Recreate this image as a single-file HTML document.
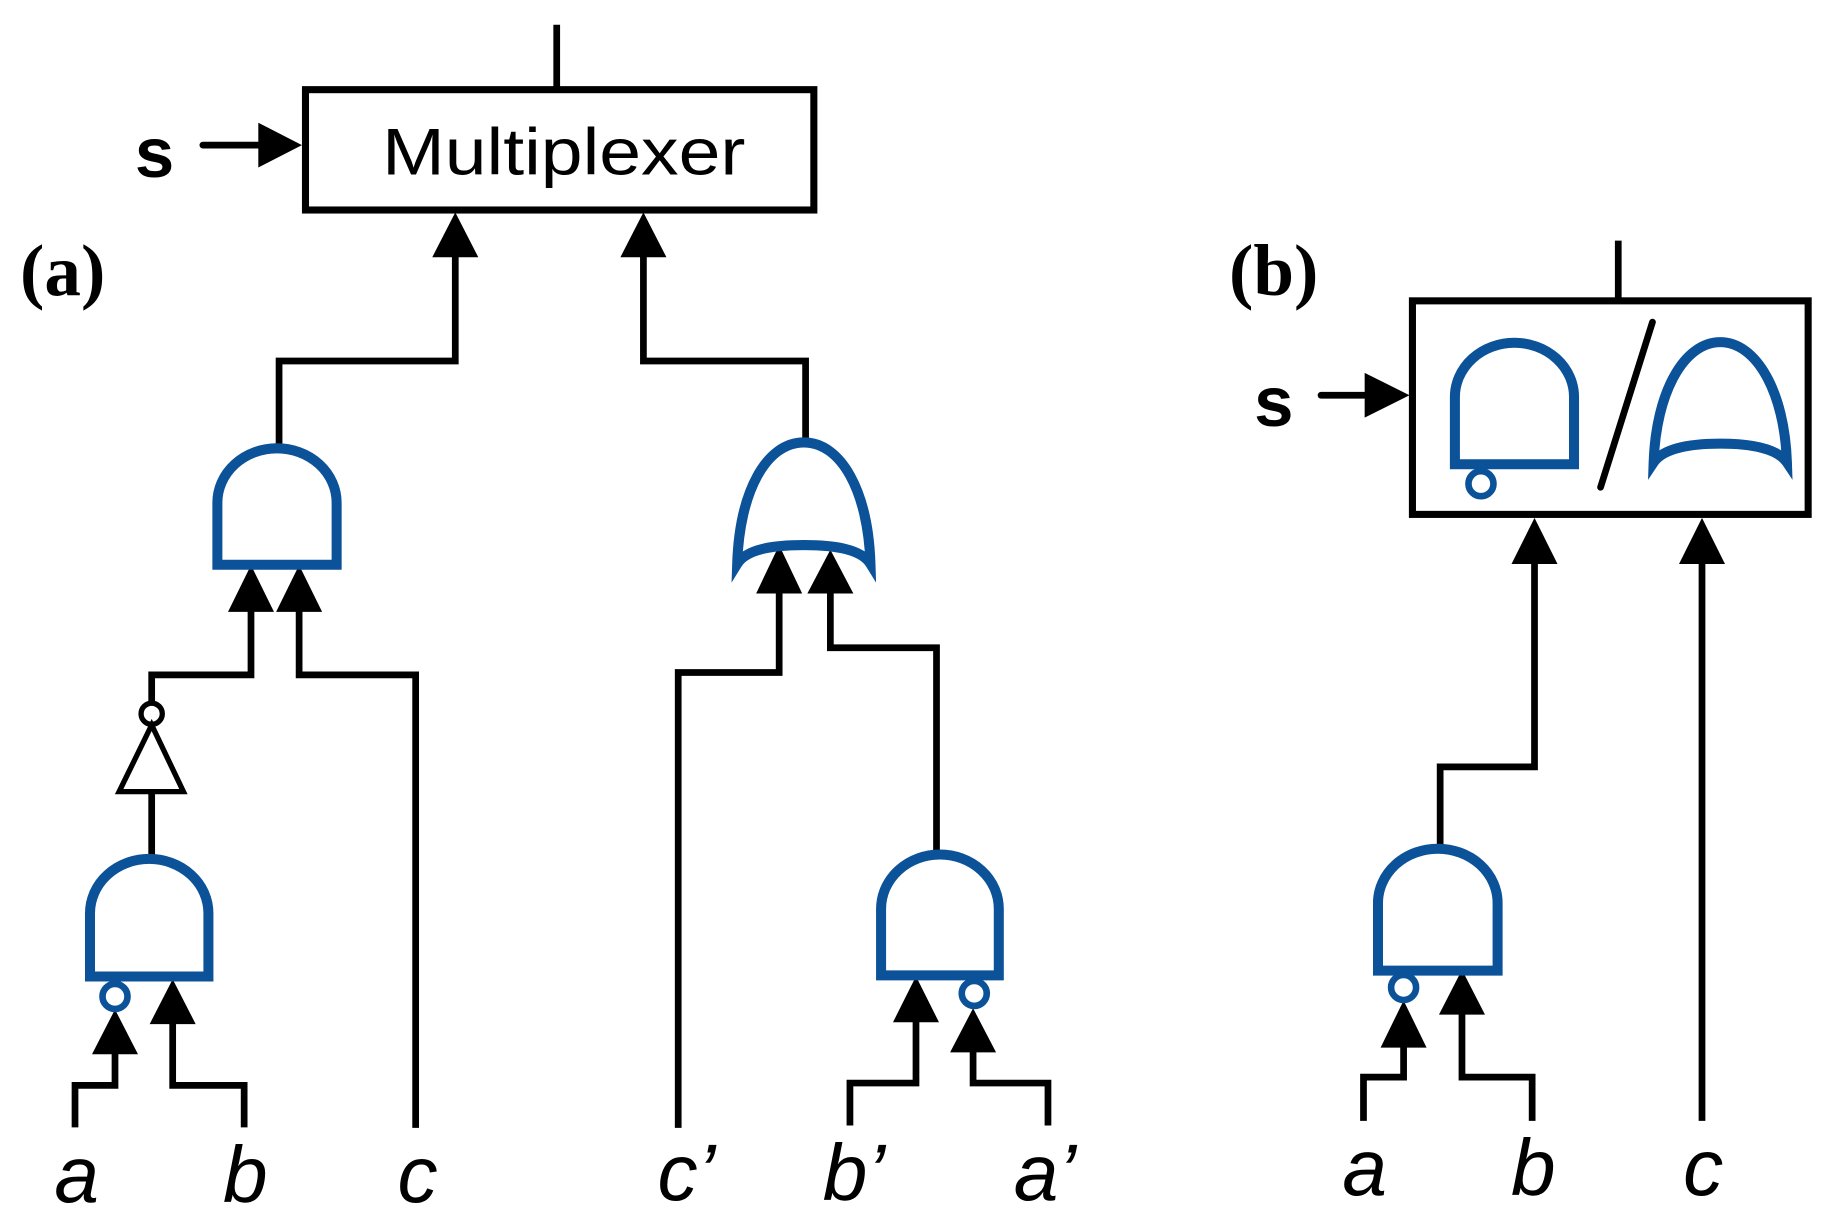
<!DOCTYPE html>
<html><head><meta charset="utf-8"><style>html,body{margin:0;padding:0;background:#fff}svg{display:block}</style></head>
<body>
<svg width="1840" height="1227" viewBox="0 0 1560 1040" preserveAspectRatio="none" xmlns="http://www.w3.org/2000/svg">
<g fill="none" stroke="#000" stroke-width="5.7" stroke-linejoin="miter">
<line x1="472" y1="21" x2="472" y2="76"/>
<rect x="259" y="76" width="431" height="102" stroke-width="6"/>
<line x1="172" y1="123" x2="222" y2="123" stroke-linecap="round"/>
<polyline points="386,215 386,306 236.6,306 236.6,380"/>
<polyline points="545.5,215 545.5,306 683,306 683,375"/>
<polyline points="212.8,515 212.8,572 128.6,572 128.6,596"/>
<polyline points="253.6,515 253.6,572 352.4,572 352.4,956"/>
<circle cx="128.6" cy="605" r="9" stroke-width="4.5"/>
<polygon points="128.6,614.5 155.5,671 101,671" stroke-width="4.5"/>
<line x1="128.6" y1="671" x2="128.6" y2="728"/>
<polyline points="97.5,890 97.5,920 63.6,920 63.6,955.6"/>
<polyline points="146.4,865 146.4,920 207,920 207,955.6"/>
<polyline points="660.6,500 660.6,570 575,570 575,956"/>
<polyline points="704,500 704,549 794,549 794,724"/>
<polyline points="776.6,863 776.6,918 720.6,918 720.6,954"/>
<polyline points="825,889 825,918 888.5,918 888.5,954"/>
<line x1="1372" y1="204" x2="1372" y2="255"/>
<rect x="1197.5" y="255" width="335.5" height="181" stroke-width="6"/>
<line x1="1120" y1="335" x2="1160" y2="335" stroke-linecap="round"/>
<line x1="1401" y1="273" x2="1357" y2="413" stroke-linecap="round"/>
<polyline points="1301,475 1301,650 1221,650 1221,719"/>
<line x1="1443" y1="475" x2="1443" y2="950"/>
<polyline points="1190,885 1190,913 1156,913 1156,950"/>
<polyline points="1239.5,857 1239.5,913 1299,913 1299,950"/>
</g>
<g fill="#000">
<polygon points="219,104 256,123 219,142"/>
<polygon points="386,180 366.5,218 405.5,218"/>
<polygon points="545.5,180 526,218 565,218"/>
<polygon points="212.8,479 193.3,518.6 232.3,518.6"/>
<polygon points="253.6,479 234.1,518.6 273.1,518.6"/>
<polygon points="97.5,855.6 78,893.6 117,893.6"/>
<polygon points="146.4,830 126.9,868 165.9,868"/>
<polygon points="660.6,462 641.1,503 680.1,503"/>
<polygon points="704,466 684.5,503 723.5,503"/>
<polygon points="776.6,827.5 757.1,866.5 796.1,866.5"/>
<polygon points="825,854.6 805.5,892 844.5,892"/>
<polygon points="1157,316 1195,335 1157,354"/>
<polygon points="1301,439 1281.5,478 1320.5,478"/>
<polygon points="1443,439 1423.5,478 1462.5,478"/>
<polygon points="1190,848 1170.5,888 1209.5,888"/>
<polygon points="1239.5,822 1220,860 1259,860"/>
</g>
<g fill="none" stroke="#0b5299" stroke-width="8.5">
<path d="M184.3 478.7 L184.3 426 A50.5 46 0 0 1 285.4 426 L285.4 478.7 Z"/>
<path d="M76.3 827.7 L76.3 774 A50.2 46 0 0 1 176.7 774 L176.7 827.7 Z"/>
<path d="M747 826.7 L747 770.3 A49.9 46 0 0 1 846.8 770.3 L846.8 826.7 Z"/>
<path d="M1168.3 822.7 L1168.3 765.3 A50.7 46 0 0 1 1269.7 765.3 L1269.7 822.7 Z"/>
<path d="M1233.5 393.5 L1233.5 336.5 A50.5 46 0 0 1 1334.5 336.5 L1334.5 393.5 Z"/>
<path d="M625 478 C627 416 650 375 681.5 375 C713 375 736 416 738 478 C730 465 706 462 681.5 462 C657 462 633 465 625 478 Z"/>
<path d="M1402 392 C1404 332 1428 290 1458.5 290 C1489 290 1513 332 1515 392 C1507 380 1484 376 1458.5 376 C1433 376 1410 380 1402 392 Z"/>
</g>
<g fill="#fff" stroke="#0b5299" stroke-width="5.6">
<circle cx="97.5" cy="844.6" r="10.6"/>
<circle cx="826" cy="842" r="10.6"/>
<circle cx="1190" cy="837" r="10.6"/>
<circle cx="1255.6" cy="410" r="10.6"/>
</g>
<g font-family="Liberation Sans, sans-serif">
<text x="478" y="148" font-size="56" text-anchor="middle" textLength="308" lengthAdjust="spacingAndGlyphs">Multiplexer</text>
<text x="131" y="150" font-size="60" font-weight="bold" text-anchor="middle">s</text>
<text x="1080" y="361" font-size="60" font-weight="bold" text-anchor="middle">s</text>
</g>
<g font-family="Liberation Serif, serif" font-weight="bold" font-size="62">
<text x="17" y="250">(a)</text>
<text x="1042" y="250">(b)</text>
</g>
<g font-family="Liberation Sans, sans-serif" font-style="italic" font-size="68" text-anchor="middle">
<text x="65" y="1019">a</text>
<text x="208" y="1019">b</text>
<text x="354" y="1019">c</text>
<text x="582" y="1017">c’</text>
<text x="724" y="1017">b’</text>
<text x="886" y="1017">a’</text>
<text x="1157" y="1013">a</text>
<text x="1300" y="1013">b</text>
<text x="1444" y="1013">c</text>
</g>
</svg>
</body></html>
